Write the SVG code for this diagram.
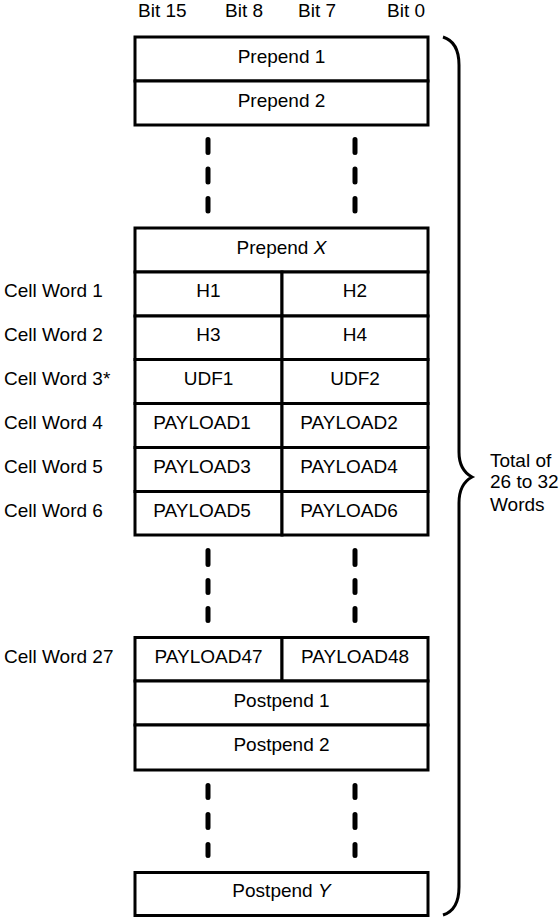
<svg xmlns="http://www.w3.org/2000/svg" width="559" height="917" viewBox="0 0 559 917">
<style>
text{font-family:"Liberation Sans",Arial,sans-serif;font-size:19px;fill:#000}
.c{text-anchor:middle}
.box{fill:#fff;stroke:#000;stroke-width:3}
.ln{stroke:#000;stroke-width:3;fill:none}
.dash{stroke:#000;stroke-width:5;stroke-linecap:round;fill:none}
</style>
<rect width="559" height="917" fill="#fff"/>
<g id="bit-labels">
<text x="138" y="17">Bit 15</text>
<text x="225" y="17">Bit 8</text>
<text x="298" y="17">Bit 7</text>
<text x="387" y="17">Bit 0</text>
</g>
<g id="prepend1"><rect class="box" x="135" y="37" width="293" height="44"/><text class="c" x="281.5" y="62.5">Prepend 1</text></g>
<g id="prepend2"><rect class="box" x="135" y="81" width="293" height="44"/><text class="c" x="281.5" y="106.5">Prepend 2</text></g>
<g id="prependX"><rect class="box" x="135" y="228" width="293" height="44"/><text class="c" x="281.5" y="253.5">Prepend <tspan font-style="italic">X</tspan></text></g>
<g id="word1"><rect class="box" x="135" y="272" width="147" height="44"/><rect class="box" x="282" y="272" width="146" height="44"/><text class="c" x="208.5" y="297">H1</text><text class="c" x="355" y="297">H2</text><text x="4" y="297">Cell Word 1</text></g>
<g id="word2"><rect class="box" x="135" y="316" width="147" height="43.5"/><rect class="box" x="282" y="316" width="146" height="43.5"/><text class="c" x="208.5" y="341">H3</text><text class="c" x="355" y="341">H4</text><text x="4" y="341">Cell Word 2</text></g>
<g id="word3"><rect class="box" x="135" y="359.5" width="147" height="44"/><rect class="box" x="282" y="359.5" width="146" height="44"/><text class="c" x="208.5" y="384.7">UDF1</text><text class="c" x="355" y="384.7">UDF2</text><text x="4" y="384.7">Cell Word 3*</text></g>
<g id="word4"><rect class="box" x="135" y="403.5" width="147" height="44"/><rect class="box" x="282" y="403.5" width="146" height="44"/><text class="c" x="202" y="428.7">PAYLOAD1</text><text class="c" x="349" y="428.7">PAYLOAD2</text><text x="4" y="428.7">Cell Word 4</text></g>
<g id="word5"><rect class="box" x="135" y="447.5" width="147" height="44"/><rect class="box" x="282" y="447.5" width="146" height="44"/><text class="c" x="202" y="472.7">PAYLOAD3</text><text class="c" x="349" y="472.7">PAYLOAD4</text><text x="4" y="472.7">Cell Word 5</text></g>
<g id="word6"><rect class="box" x="135" y="491.5" width="147" height="43.5"/><rect class="box" x="282" y="491.5" width="146" height="43.5"/><text class="c" x="202" y="516.5">PAYLOAD5</text><text class="c" x="349" y="516.5">PAYLOAD6</text><text x="4" y="516.5">Cell Word 6</text></g>
<g id="word27"><rect class="box" x="135" y="637.5" width="147" height="43.5"/><rect class="box" x="282" y="637.5" width="146" height="43.5"/><text class="c" x="208.5" y="663">PAYLOAD47</text><text class="c" x="355" y="663">PAYLOAD48</text><text x="4" y="663">Cell Word 27</text></g>
<g id="postpend1"><rect class="box" x="135" y="681" width="293" height="44"/><text class="c" x="281.5" y="706.5">Postpend 1</text></g>
<g id="postpend2"><rect class="box" x="135" y="725" width="293" height="45"/><text class="c" x="281.5" y="750.5">Postpend 2</text></g>
<g id="postpendY"><rect class="box" x="135" y="872.5" width="293" height="43"/><text class="c" x="281.5" y="897">Postpend <tspan font-style="italic">Y</tspan></text></g>
<g id="connectors">
<path class="dash" d="M208,139.5V152.5M208,169V182M208,198.5V211M355,139.5V152.5M355,169V182M355,198.5V211"/>
<path class="dash" d="M208,550.5V564.5M208,580.5V592.5M208,608.5V620.5M355,550.5V564.5M355,580.5V592.5M355,608.5V620.5"/>
<path class="dash" d="M208,785.5V797.5M208,814.5V827.5M208,844.5V855.5M355,785.5V797.5M355,814.5V827.5M355,844.5V855.5"/>
</g>
<g id="brace">
<path class="ln" d="M443,37 Q459,42 459,65 L459,452 Q459,470 472,477 Q459,484 459,503 L459,887 Q459,910 443,915"/>
<text x="490" y="466.7">Total of</text>
<text x="490" y="488.3">26 to 32</text>
<text x="490" y="510.7">Words</text>
</g>
</svg>
